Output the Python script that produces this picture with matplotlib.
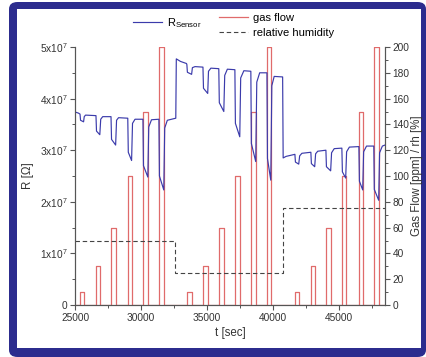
import matplotlib
matplotlib.use("Agg")
import matplotlib.pyplot as plt
from matplotlib.patches import FancyBboxPatch, Rectangle
from matplotlib.ticker import MultipleLocator

plt.rcParams['font.family'] = ['Liberation Sans', 'DejaVu Sans']
plt.rcParams['mathtext.fontset'] = 'custom'
plt.rcParams['mathtext.rm'] = 'Liberation Sans'
plt.rcParams['mathtext.it'] = 'Liberation Sans:italic'
plt.rcParams['mathtext.default'] = 'regular'

# sensor resistance knots (t in sec, R in 1e7 Ohm)
sensorT = [25000, 25250, 25380, 25420, 25650, 25700, 25800,
           26590, 26630, 26880, 26950, 27100,
           27730, 27770, 28080, 28150, 28300,
           29000, 29040, 29290, 29360, 29550,
           30150, 30190, 30520, 30590, 30800,
           31360, 31400, 31730, 31800, 32000, 32640,
           32680, 33000, 33450,
           33480, 33520, 33840, 33900, 34100,
           34700, 34740, 35060, 35120, 35300,
           35900, 35940, 36280, 36350, 36550,
           37120, 37160, 37490, 37560, 37800,
           38330, 38370, 38700, 38780, 39000,
           39550, 39590, 39840, 39920, 40100, 40740,
           40780, 41000, 41670,
           41710, 41960, 42030, 42200,
           42880, 42920, 43170, 43240, 43400,
           44020, 44060, 44380, 44450, 44650,
           45230, 45270, 45520, 45590, 45800,
           46520, 46560, 46810, 46880, 47100,
           47650, 47690, 48020, 48090, 48300, 48500]
sensorR = [3.74, 3.72, 3.70, 3.58, 3.55, 3.65, 3.68,
           3.67, 3.37, 3.30, 3.60, 3.65,
           3.65, 3.21, 3.10, 3.58, 3.63,
           3.62, 2.96, 2.80, 3.52, 3.60,
           3.60, 2.70, 2.48, 3.45, 3.59,
           3.60, 2.50, 2.23, 3.43, 3.58, 3.62,
           4.77, 4.72, 4.68,
           4.66, 4.51, 4.47, 4.60, 4.62,
           4.61, 4.20, 4.10, 4.53, 4.59,
           4.58, 3.92, 3.75, 4.45, 4.57,
           4.56, 3.52, 3.26, 4.40, 4.54,
           4.53, 3.13, 2.78, 4.32, 4.50,
           4.50, 2.84, 2.42, 4.25, 4.43, 4.42,
           2.85, 2.88, 2.92,
           2.77, 2.73, 2.89, 2.94,
           2.96, 2.74, 2.68, 2.93, 2.98,
           3.00, 2.68, 2.60, 2.95, 3.03,
           3.04, 2.58, 2.46, 2.97, 3.06,
           3.07, 2.40, 2.23, 2.97, 3.08,
           3.08, 2.24, 2.03, 2.95, 3.08, 3.10]

# gas pulses
pulseStart = [25380, 26590, 27730, 29000, 30150, 31360,
              33480, 34700, 35900, 37120, 38330, 39550,
              41670, 42880, 44020, 45230, 46520, 47650]
pulseEnd = [25680, 26890, 28100, 29300, 30530, 31740,
            33860, 35080, 36290, 37500, 38710, 39850,
            41970, 43180, 44390, 45530, 46820, 48030]
pulseHeight = [10, 30, 60, 100, 150, 200,
               10, 30, 60, 100, 150, 200,
               10, 30, 60, 100, 150, 200]

# relative humidity steps
humT = [25000, 32600, 40750, 48500]
humV = [50, 25, 75, 75]

xTicks = [25000, 30000, 35000, 40000, 45000]
yTicks = [0, 1e7, 2e7, 3e7, 4e7, 5e7]
yTickLabels = ['0', '1x10$^7$', '2x10$^7$', '3x10$^7$', '4x10$^7$', '5x10$^7$']


def main():
    fig = plt.figure(figsize=(4.26, 3.57), dpi=100)
    fig.patch.set_facecolor('white')
    frame = FancyBboxPatch((9/426, 0), 1 - 9/426, 1 - 2/357,
                           boxstyle="round,pad=0,rounding_size=0.02",
                           transform=fig.transFigure, facecolor='#2c2c8e',
                           edgecolor='none', zorder=-3)
    fig.patches.append(frame)
    inner = Rectangle((17/426, 1 - 348/357), (421-17)/426, (348-9)/357,
                      transform=fig.transFigure, facecolor='white',
                      edgecolor='none', zorder=-2)
    fig.patches.append(inner)

    ax = fig.add_axes([75/426, 1 - 305/357, (385-75)/426, (305-47)/357])
    ax2 = ax.twinx()
    ax.set_zorder(ax2.get_zorder() + 1)
    ax.patch.set_visible(False)
    ax2.patch.set_visible(False)

    gasT = [25000]
    gasV = [0]
    for s, e, h in zip(pulseStart, pulseEnd, pulseHeight):
        gasT += [s, s, e, e]
        gasV += [0, h, h, 0]
    gasT.append(48500)
    gasV.append(0)

    ax2.plot(gasT, gasV, color='#e06b6b', lw=0.9, label='gas flow')
    ax2.plot(humT, humV, color='#444444', lw=0.8, ls=(0, (4, 2.5)),
             drawstyle='steps-post', label='relative humidity')
    ax.plot(sensorT, [r*1e7 for r in sensorR], color='#3b3bab', lw=0.85,
            label=r'R$_{Sensor}$')

    ax.set_xlim(25000, 48500)
    ax.set_ylim(0, 5e7)
    ax2.set_ylim(0, 200)
    ax.set_xticks(xTicks)
    ax.set_yticks(yTicks)
    ax.set_yticklabels(yTickLabels)
    ax.xaxis.set_minor_locator(MultipleLocator(2500))
    ax.yaxis.set_minor_locator(MultipleLocator(0.5e7))
    ax2.yaxis.set_major_locator(MultipleLocator(20))
    ax2.yaxis.set_minor_locator(MultipleLocator(10))

    for a in (ax, ax2):
        a.spines['top'].set_visible(False)
        for sp in a.spines.values():
            sp.set_color('#555555')
            sp.set_linewidth(0.8)
        a.tick_params(which='major', direction='out', length=3.5, width=0.8,
                      color='#555555', labelsize=7.3, labelcolor='#333333', pad=2)
        a.tick_params(which='minor', direction='out', length=2, width=0.7,
                      color='#555555')

    ax.set_xlabel('t [sec]', fontsize=8.3, color='#333333', labelpad=3)
    ax.set_ylabel('R [Ω]', fontsize=8.3, color='#333333', labelpad=4)
    ax2.set_ylabel('Gas Flow [ppm] / rh [%]', fontsize=8.3, color='#333333', labelpad=1)

    ax.legend(loc='upper left', bbox_to_anchor=(133/426, 1 - 16/357),
              bbox_transform=fig.transFigure, frameon=False, fontsize=8,
              borderpad=0, borderaxespad=0, handlelength=2.6, handletextpad=0.5)
    ax2.legend(loc='upper left', bbox_to_anchor=(219/426, 1 - 13/357),
               bbox_transform=fig.transFigure, frameon=False, fontsize=8,
               borderpad=0, borderaxespad=0, handlelength=2.6,
               handletextpad=0.5, labelspacing=0.45)

    fig.savefig('out.png', dpi=100)


if __name__ == "__main__":
    main()
